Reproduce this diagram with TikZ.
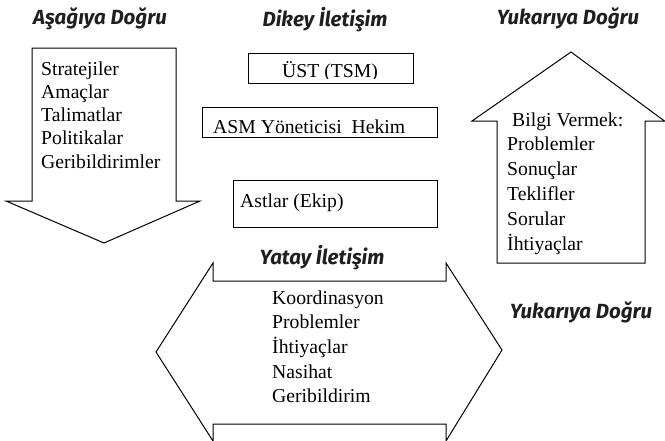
\documentclass[tikz,border=0pt]{standalone}
\usepackage{fontspec}
\setmainfont{Liberation Serif}
\newfontfamily\headfont{Fira Sans}
\begin{document}
\begin{tikzpicture}[x=1pt,y=-1pt,
  outline/.style={draw=black, line width=1pt, line join=miter},
  body/.style={inner sep=0pt, anchor=base west, font=\fontsize{19.7}{23.5}\selectfont},
  head/.style={inner sep=0pt, anchor=base, text=black!88,
    font=\headfont\bfseries\itshape\fontsize{20.5}{23}\selectfont},
  frame/.style={draw=black, line width=1pt, inner sep=0pt, anchor=north west}]
\clip (0,0) rectangle (665,440);

% section headings
\node[head] (hdown) at (100,24) {Aşağıya Doğru};
\node[head] (hvert) at (325,26) {Dikey İletişim};
\node[head] (hup)   at (568,24) {Yukarıya Doğru};
\node[head] (hhor)  at (322,264) {Yatay İletişim};
\node[head] (hup2)  at (581,318) {Yukarıya Doğru};

% downward block arrow
\draw[outline] (32,48) -- (176,48) -- (176,201) -- (200,201) -- (104,243)
  -- (6,201) -- (32,201) -- cycle;
\foreach \t [count=\i] in {Stratejiler,Amaçlar,Talimatlar,Politikalar,Geribildirimler}
  \node[body] (down\i) at (41,{75+23.3*(\i-1)}) {\t};

% upward block arrow
\draw[outline] (497,263) -- (497,121) -- (472,121) -- (571,52) -- (664.5,121)
  -- (645,121) -- (645,263) -- cycle;
\node[body] (up0) at (512,126) {Bilgi Vermek:};
\foreach \t [count=\i] in {Problemler,Sonuçlar,Teklifler,Sorular,İhtiyaçlar}
  \node[body] (up\i) at (507,{126+24.8*\i}) {\t};

% horizontal double block arrow
\draw[outline] (213,281) -- (213,263) -- (156,352) -- (213,441) -- (213,424)
  -- (446,424) -- (446,441) -- (502,350) -- (446,263) -- (446,281) -- cycle;
\foreach \t [count=\i] in {Koordinasyon,Problemler,İhtiyaçlar,Nasihat,Geribildirim}
  \node[body] (hor\i) at (272,{304+24.7*(\i-1)}) {\t};

% hierarchy boxes
\node[frame, minimum width=165pt, minimum height=30pt] (top) at (248,53) {};
\begin{scope}
  \clip (248,53) rectangle (413,78);
  \node[body, anchor=base] (toptext) at (330,77) {ÜST (TSM)};
\end{scope}
\node[frame, minimum width=235pt, minimum height=30pt] (mid) at (202,107) {};
\node[body] (midtext) at (213,133) {ASM Yöneticisi\ \ Hekim};
\node[frame, minimum width=204pt, minimum height=47pt] (low) at (233,180) {};
\node[body] (lowtext) at (240,207) {Astlar (Ekip)};
\end{tikzpicture}
\end{document}
